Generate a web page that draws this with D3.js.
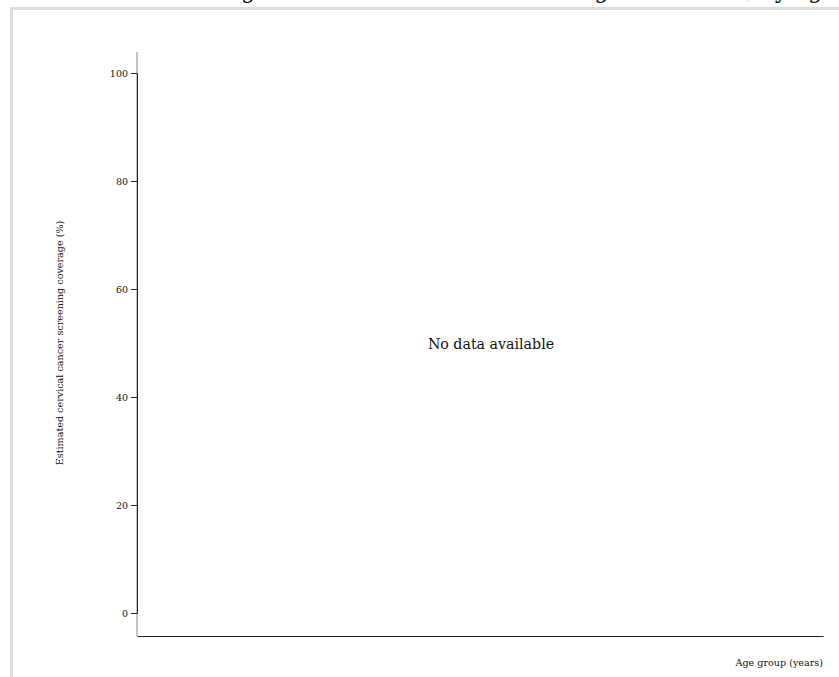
<!DOCTYPE html>
<html>
<head>
<meta charset="utf-8">
<script src="https://cdn.jsdelivr.net/npm/d3@7"></script>
<style>
  html, body { margin: 0; padding: 0; background: #fff; overflow: hidden; }
  svg { display: block; font-family: "DejaVu Serif", serif; }
</style>
</head>
<body>
<svg id="chart" width="839" height="677"></svg>
<script>
// ---- data (no data available for this chart) ----
const titleText = "Estimated cervical cancer screening rate in the selected health region of Benin, by age group";
const yTickValues = [0, 20, 40, 60, 80, 100];
const categories = [];       // age groups: none available
const coverageValues = [];   // no values available
const yLabel = "Estimated cervical cancer screening coverage (%)";
const xLabel = "Age group (years)";
const emptyMessage = "No data available";

const svg = d3.select("#chart");

// frame
svg.append("rect")
  .attr("x", 11.5).attr("y", 8.5)
  .attr("width", 900).attr("height", 800)
  .attr("fill", "none").attr("stroke", "#dcdcdc").attr("stroke-width", 3);

// title (clipped at top, as in the reference)
const title = svg.append("text")
  .attr("y", -2.3)
  .attr("font-size", 22.5)
  .attr("fill", "#111")
  .text(titleText);
const commaIdx = titleText.indexOf(",");
const pre = title.node().getSubStringLength(0, commaIdx);
title.attr("x", 746 - pre);

// scales
const plotLeft = 137, plotRight = 823, plotTop = 52, plotBottom = 636;
const y = d3.scaleLinear().domain([0, 100]).range([613, 73]);
const x = d3.scaleBand().domain(categories).range([plotLeft, plotRight]);

// full-extent light axis line
svg.append("line")
  .attr("x1", plotLeft).attr("x2", plotLeft)
  .attr("y1", plotTop).attr("y2", plotBottom)
  .attr("stroke", "#888").attr("stroke-width", 1);

// y axis
const yAxis = d3.axisLeft(y).tickValues(yTickValues).tickSize(6).tickSizeOuter(0);
const gy = svg.append("g")
  .attr("transform", `translate(${plotLeft},0)`)
  .call(yAxis);
gy.select(".domain").attr("stroke", "#222");
gy.selectAll(".tick line").attr("stroke", "#222");
gy.selectAll(".tick text")
  .attr("font-family", "DejaVu Serif, serif")
  .attr("font-size", 9.5)
  .attr("fill", "#111")
  .attr("x", -9);

// x axis line
const gx = svg.append("g")
  .attr("transform", `translate(0,${plotBottom})`)
  .call(d3.axisBottom(x).tickSize(0).tickSizeOuter(0));
gx.select(".domain").attr("stroke", "#222");

// bars (none)
svg.append("g").selectAll("rect")
  .data(coverageValues)
  .join("rect")
  .attr("x", (d, i) => x(categories[i]))
  .attr("width", x.bandwidth())
  .attr("y", d => y(d))
  .attr("height", d => y(0) - y(d))
  .attr("fill", "#4a7ebb");

// axis labels
svg.append("text")
  .attr("transform", `translate(63,${(plotTop + plotBottom) / 2 - 1}) rotate(-90)`)
  .attr("text-anchor", "middle")
  .attr("font-size", 9.6)
  .attr("fill", "#111")
  .text(yLabel);

svg.append("text")
  .attr("x", plotRight).attr("y", 666)
  .attr("text-anchor", "end")
  .attr("font-size", 9.6)
  .attr("fill", "#111")
  .text(xLabel);

// empty message
if (coverageValues.length === 0) {
  svg.append("text")
    .attr("x", 491).attr("y", (plotTop + plotBottom) / 2 + 5)
    .attr("text-anchor", "middle")
    .attr("font-size", 14.2)
    .attr("fill", "#111")
    .text(emptyMessage);
}
</script>
</body>
</html>
